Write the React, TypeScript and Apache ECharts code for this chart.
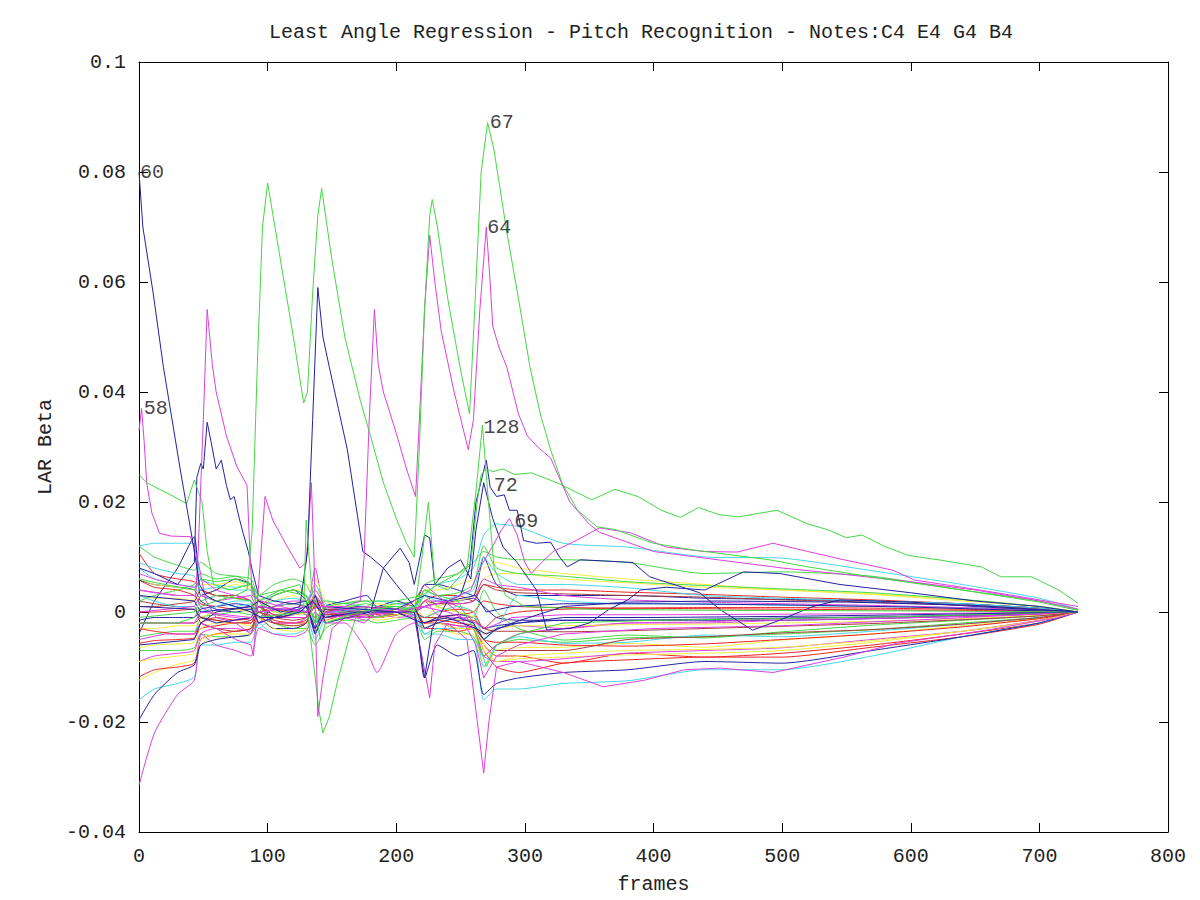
import React, { useEffect, useRef } from "react";
import * as echarts from "echarts";

// values are LAR beta in thousandths (axis labels divide by 1000)
const FRAMES = [0, 12, 30, 43, 48, 60, 75, 87, 93, 105, 120, 130, 137, 145, 160, 177, 185, 200, 214, 222, 232, 248, 260, 268, 278, 295, 330, 380, 440, 500, 570, 640, 700, 730];

const b01 = [12, 12.5, 12.5, 12.5, 6, 5, 4.5, 5, 2, 3, 4, 3, 1, 2, 1.5, 1, 2, 1.5, 1, 3, 5, 6, 8, 14, 16, 15.5, 12.5, 11.8, 10, 9.8, 7.5, 5, 2.5, 0.5];
const b02 = [12, 10, 8.5, 7.6, 9, 7, 6.5, 6, 3, 5, 6, 5, 2, 2, 1.5, 2, 1, 1.5, 2, 5, 6, 7, 9, 11, 10, 9.5, 9.5, 9, 7, 7.3, 6.5, 4, 2, 0.5];
const b03 = [10.7, 7, 6, 5.5, 4, 3, 2.5, 2, -1, 1, 1.5, 1, 3, 0.5, 0, 0.5, -0.5, 0.5, 0, 2, 3, 3, 2, 5, 4.5, 4, 4, 3.6, 3.2, 2.7, 2.2, 1.5, 0.7, 0];
const b04 = [5.8, 4.5, 4, 3, 1.5, 1, 0.5, 0.5, 2, 0.5, 0, 0, -2, 0, 0.5, 0, 1, 0, -0.5, -1, 0, 0.5, 0, -3, -1, 0, 0.5, 0.7, 0.8, 0.8, 0.7, 0.5, 0.2, 0];
const b05 = [5.8, 5, 4.5, 4, 2, 0.5, 0, 0.5, -2, -1, -0.5, 0, 2, -1, -0.5, -1, 0, -0.5, 0, 1, 1.5, 2, 2.5, 1, -1, -1.5, -1.5, -1.5, -1.5, -1.5, -1.2, -0.8, -0.4, 0];
const b06 = [4, 3.5, 3, 3, 1, -0.5, -1, -1.5, 1, -0.5, 0, -0.5, -3, -1, -0.5, -1.5, 0, -1, -0.5, 2, -0.5, -1, -1, -4, -3, -2.5, -3, -2, -1.8, -1.2, -1, -0.7, -0.4, 0];
const b07 = [3, 2.5, 2.5, 2, 3, 4, 5, 4, 1, 2, 3, 2, 5, 1, 0.5, 1, 0.5, 0.5, 1, -1, 1, 2, 3, 6, 7, 7, 6, 5.3, 4.5, 4, 3.2, 2, 1, 0];
const b08 = [0, 0, 0.3, 0.5, -1, -1.5, -2, -2, 1, -1, -1, -1, 1, 0, -0.5, 0, -1, 0, 0.5, -2, -1, -0.5, 0, 2, 1.5, 1, 0.8, 0.7, 0.6, 0.5, 0.4, 0.3, 0.1, 0];
const b09 = [-1.5, -1, -1, -1, 0.5, 1, 1.5, 1, -1, 0.5, 0.5, 0, -2, 0.5, 0.2, 0, 0.5, 0, -0.5, -2, -1, -0.5, -1, -3, -2.5, -2, -1.5, -1.5, -1.3, -1.1, -0.9, -0.6, -0.3, 0];
const b10 = [-4.5, -4, -3.5, -3.5, -1, -0.5, 0, -0.5, 2, 0, 0, -0.5, -2, 0, 0.5, 0.5, 0, 0.5, 0, 3, 1, 0, -1, 4, 0, -3, -5.1, -4.2, -4.7, -3.6, -2.4, -1.5, -0.7, 0];
const b11 = [-5.7, -5.2, -5, -4.7, -3, -2.5, -2, -2, 0, -1.5, -2, -1.5, 1, -1, -0.5, -0.5, -1, -0.5, 0, -3, -2, -2.5, -3, -6, -8, -8, -9.3, -7.5, -8.2, -7.5, -6, -4, -2, 0];
const b12 = [-6.5, -6, -5.8, -5.5, -3, -2, -2, -2.5, -1, -3, -3, -2, 2, -2, -1, -1, -1.5, -1, 0, -4, -3, -4, -4, -10, -7, -6.5, -6.4, -5.7, -6.4, -5.1, -4, -2.5, -1.2, 0];
const b13 = [-7, -7, -7, -6.5, -4, -4.5, -4.5, -4, 1, -2, -3, -3, -6, -3, -1.5, -1.5, -2, -1.5, -1, -5, -3.5, -3.5, -4.5, -8, -6, -5, -5.5, -4.7, -4.5, -4, -3.2, -2, -1, 0];
const b14 = [-4, 2, 8, 13.7, 3, 4, 6, 5, 1, 3, 4, 2, -4, 1, 2, 3, 1, 2, 1, 5, 5, 4, 3, 10, 5, 3, 3, 3, 2.5, 2.3, 2, 1.5, 0.7, 0];
const b15 = [-12.4, -11, -9.5, -8.7, -6, -4, -3.5, -3, 0, -2, -2.5, -2, 3, -1, 0, 0, 1, 0.5, 0, -2, 0, 1, 0, -6, -9, -8.5, -8.2, -7.8, -7.5, -7, -5.5, -3.5, -1.5, 0];
const b16 = [-11.8, -10.5, -10, -9.3, -5, -4, -3.5, -3, -1, -2, -2, -2, 1.5, -1.5, -0.5, -1, 0, -0.5, 0, -3, -3, -3.5, -3, -7, -10, -11, -9.3, -8.7, -8.2, -8.2, -6.4, -4.5, -2.2, 0];
const b17 = [-16, -14, -13, -11.8, -6, -6, -5.5, -5.5, -2, -4, -4, -3, 2, -2, -1, -1, -1, -0.5, 0, -4, -4, -5, -5, -16, -14, -14, -13, -12.5, -10.5, -10.5, -8, -4.5, -2, 0];
const b18 = [-31.5, -22, -15, -12.4, -4, -3, -3, -3.5, 2, -2, -2, -1, 8, 0, -1, -1, -1, -0.5, 0, 1, 2, 1, -2, -8, -9, -9, -8.5, -7.5, -7, -6.5, -5, -3.5, -1.5, 0];
const b19 = [-19.6, -15, -11, -9.6, -6, -5, -4.5, -4, -1, -3, -3, -2, 3, -1, 0, 0.5, 0, 0.5, 0, -12, -6, -8, -7, -15, -13, -12, -11, -10.5, -9, -9.3, -7, -4.5, -2, 0];
const b20 = [8, 6, 5, 4.5, 3, 2, 1, 1.5, -3, -1, -1, -1, -5, -1, 0.5, 0, 0.5, 0, 0.5, -4, -3, -3, -2, -10, -6, -4.5, -5.7, -5.5, -4.2, -4.5, -3.5, -2.2, -1, 0];
const b21 = [2, 1.5, 1, 1, -2, -3, -3.5, -3, 0, -2, -2.5, -2, 2, -1, -0.5, -0.5, -1, -0.5, 0, -2, -2, -3, -3, -5, -7, -7, -7, -5, -4.5, -3.8, -3.2, -2.2, -1, 0];
const b22 = [1, 1, 1.5, 2, 4, 3, 3, 2, 0, 1, 1.5, 1, -1, 0.5, 0.5, 0.5, 0.3, 0.5, 0, 2, 1.5, 1.5, 2, 5, 4, 3.5, 3.3, 3, 2.7, 2.2, 1.8, 1.2, 0.6, 0];
const b23 = [6, 5, 4.5, 4, 5, 5, 5.5, 4.5, 1, 3, 4, 4, 6, 2, 1, 1, 1.5, 1, 1.5, 4, 4, 5, 6, 8, 9, 8, 7, 6, 5, 4, 3.3, 2.2, 1, 0];
const b24 = [-9, -8, -7.5, -7, -4, -6, -7, -8, -3, -4, -4.5, -3.5, 0, -2, -2, -7, -11, -4, -2, -3, -2, -2.5, -3, -8, -6, -4, -3, -2, -2, -1.5, -1.2, -0.8, -0.4, 0];
const b25 = [-3, -3, -2.5, -2.5, -1, 0, 0.5, 0, 2.5, 0, -0.5, 0, 3, 0, 0.5, 0.3, 0, 0.5, 0.3, 2, 1, 0, -1, -4, -3, -2.5, -2.5, -2.3, -2.2, -2, -1.7, -1.2, -0.6, 0];
const b26 = [9, 8, 7, 6.5, 4, 4.5, 4, 4, 1, 2, 2.5, 2, 5, 1.5, 0.5, 0.5, 0.5, 0.5, 1, 3, 2, 3, 4, 10, 7, 5, 5, 4.4, 3, 2.5, 2, 1.5, 0.7, 0];
const b27 = [2, 3, 4, 5, 7, 6, 6.5, 5, 0, 3, 4, 3, -2, 1, 1, 1.5, 1, 1, 0.5, 4, 3, 3.5, 5, 12, 8, 7, 6.5, 5.5, 4.8, 4.2, 3.5, 2.3, 1, 0];
const b28 = [-3, -3.5, -4, -4, -2, -1, -1.5, -1, 1, -0.5, -1, -1, 1.5, -0.5, 0, -0.5, 0, 0, 0, -2, -1.5, -2, -2.5, -5, -5.5, -5.5, -6, -6.2, -5.8, -5, -4, -2.7, -1.2, 0];
const b29 = [3, 2, 1, 1, 0, 1, 2, 2, -1, 1, 1.5, 1, -2, 0, 0, -0.5, 0, 0, -0.5, -1, 0, 1, 0, -5, -3, 3, 2, 1.5, 1.5, 1.2, 1, 0.8, 0.4, 0];
const b30 = [7, 6, 5, 4.5, 6, 4, 3, 2, -2, 1, 2, 2, 4, 1, 0.5, 0, 1, 0.5, 0, 2, 2, 1.5, 2, 6, 5, 4.5, 3, 2.2, 1.8, 1.5, 1.2, 0.8, 0.4, 0];
const b31 = [-2, -2, -2, -2, -1, -1.5, -2, -1.5, 0, -1, -1.5, -1, 1, -0.5, -0.3, -0.5, -1, -0.5, 0, -1, -1, -1.5, -1.5, -3, -3.5, -3.5, -3.6, -3.4, -3, -2.6, -2.1, -1.4, -0.7, 0];
const b32 = [-9, -8.5, -8, -7.5, -5, -4, -4, -4, -1, -3, -3.5, -3, 2, -1.5, -1, -0.5, -1, -0.5, 0, -3, -2, -3, -3, -7, -9, -8, -7.5, -7, -6.8, -6.4, -5.2, -3.5, -1.6, 0];

// prominent paths: [frame, beta*1000]
const m60 = [[0, 80], [3, 70], [11, 58], [19, 44.5], [32, 26], [42, 12.5], [47, 5], [52, 3], [60, 2], [75, 1], [87, 0], [95, -1], [110, -1], [125, 0], [135, 2], [145, -1], [170, 0], [200, 0], [220, -2], [240, -1], [262, -3], [270, -4], [290, -2], [330, 1], [380, 1.8], [450, 2], [550, 1.8], [650, 1.2], [730, 0]];
const m58 = [[0, 33], [2, 37], [4, 31], [6, 23.5], [10, 18], [16, 14.3], [25, 13.8], [40, 13.7], [44, 11], [47, 8], [52, 2], [60, -1], [75, -2], [87, -4], [93, -2], [105, -1], [130, -1], [137, 3], [145, 0], [180, -1], [220, 1], [240, 0], [262, -2], [270, -3], [290, -1], [330, -0.5], [400, -0.5], [500, -0.4], [600, -0.3], [730, 0]];
const m64 = [[0, 4], [30, 3], [44, 3], [46, 11], [50, 35], [53, 55], [57, 45], [60, 40], [68, 32], [76, 26.5], [84, 23], [86, 12], [88, 3], [95, 2], [110, 1], [130, 0], [140, 1], [160, 1], [172, 2], [175, 10], [179, 35], [183, 55], [186, 45], [190, 40], [200, 32.5], [208, 26], [215, 21], [218, 35], [222, 55], [226, 68.5], [230, 60], [235, 51], [245, 40], [256, 29.5], [260, 35], [265, 55], [270, 70], [273, 60], [275, 52], [280, 48], [286, 44.5], [295, 36], [302, 32], [310, 30], [320, 28], [335, 20], [350, 16], [358, 14.5], [400, 11], [450, 9.5], [500, 8], [550, 6.8], [600, 5.5], [650, 4], [700, 2], [730, 0.5]];
const m67 = [[0, -2], [30, -2], [43, -1], [48, 1], [60, 2], [75, 3], [84, 4], [88, 15], [92, 45], [96, 70], [100, 78], [110, 64], [120, 50], [128, 38], [131, 40], [135, 58], [139, 72], [142, 77], [150, 64], [160, 50], [172, 38.5], [180, 32], [190, 23.5], [200, 17], [208, 12.5], [214, 10], [218, 30], [222, 55], [226, 72], [228, 75], [232, 70], [240, 57], [250, 44], [257, 36], [261, 55], [266, 80], [271, 89], [276, 84], [286, 69], [295, 57], [304, 44.5], [312, 36], [320, 29.5], [329, 23.4], [341, 18.5], [356, 15.5], [370, 15], [400, 12.5], [430, 11.3], [490, 9.5], [520, 8.2], [580, 6], [640, 4], [700, 1.8], [730, 0.3]];
const mTopGreen = [[0, 25], [6, 23.5], [27, 21], [37, 19.7], [43, 24], [46, 22], [49, 20], [53, 11], [58, 5], [70, 4], [87, 5], [93, 3], [110, 4], [130, 3], [137, -2], [145, 1], [170, 2], [200, 2], [220, 3], [232, 5], [248, 7], [258, 9], [263, 20], [266, 25], [270, 26], [275, 25.5], [283, 26], [292, 25], [305, 25.3], [326, 23.4], [352, 20.4], [370, 22.3], [388, 21], [406, 18.5], [421, 17.2], [435, 19], [451, 17.7], [466, 17.3], [496, 18.5], [520, 16], [535, 15], [550, 13.5], [562, 14], [580, 11.9], [598, 10.3], [624, 9.4], [655, 8.2], [670, 6.4], [694, 6.4], [715, 4], [730, 1.6]];
const m128 = [[0, -1], [43, 0], [48, 2], [60, 3], [87, 2], [93, -1], [128, 0], [130, 16.7], [134, 5], [141, -5], [145, -2], [170, 0], [200, 1], [214, 0], [220, 10], [225, 20], [230, 5], [240, 4], [255, 8], [262, 22], [267, 34], [271, 22], [276, 8], [285, 3], [300, 1], [350, 0.5], [450, 0.3], [600, 0.2], [730, 0]];
const m72 = [[0, 3], [43, 2], [48, 0], [87, 1], [93, -2], [130, 1], [137, -3], [145, 1], [200, 0], [214, 0], [222, -12], [228, -3], [240, 2], [250, 3], [257, 8], [262, 20], [270, 27.6], [273, 22.7], [278, 21], [284, 21.3], [288, 18.5], [294, 18.5], [299, 13], [309, 12.5], [320, 12.7], [327, 10], [333, 8.2], [343, 9.5], [360, 9.3], [384, 9], [397, 6.4], [436, 3.5], [452, 0.4], [477, -3.3], [498, -1.5], [524, 1], [545, 2.2], [600, 1.8], [650, 1], [730, 0]];
const m72b = [[0, 1], [43, 0.5], [48, -1], [60, -2], [87, -1], [93, 1], [130, 0], [137, 3], [145, -2], [180, 0], [190, 8], [203, 11.6], [210, 9], [214, 5], [222, 14], [226, 13.5], [230, 5], [240, 8], [250, 9.5], [258, 6], [262, 15], [268, 23.5], [275, 17], [283, 11.8], [294, 9], [309, 4], [317, -3.3], [335, -3], [350, -2], [365, 0.4], [380, 2.2], [390, 4], [410, 4.5], [440, 4], [470, 7.3], [498, 7], [545, 5], [600, 3.5], [650, 2], [700, 1], [730, 0]];
const m140 = [[0, -6], [43, -5], [48, -2], [60, 0], [87, 1], [93, 2], [110, 0], [125, 1], [131, 11], [135, 35], [139, 59], [143, 50], [148, 44.5], [155, 37], [162, 29.5], [170, 17.3], [174, 11], [180, 10], [190, 8], [200, 5], [214, 1], [222, -3], [232, -2], [248, -1], [260, -2], [268, -5], [278, -3], [295, -2], [330, -1], [400, -1], [500, -0.8], [600, -0.5], [730, 0]];
const m53 = [[0, 8], [12, 7], [30, 5], [43, 9], [45, 24.5], [48, 27], [50, 26], [53, 34.5], [56, 31], [60, 26], [64, 27.6], [68, 23], [71, 20.4], [74, 21], [78, 17], [81, 14.3], [85, 11], [88, 7.6], [93, 3], [105, 2], [120, 1.5], [130, 2], [137, -4], [145, 0], [170, 1], [200, 0.5], [222, 3], [240, 2], [262, 3], [270, 0], [290, 1], [330, 1.5], [400, 1.5], [500, 1.3], [600, 0.9], [730, 0]];
const mGreenDip = [[0, 6], [20, 5], [43, 4], [48, 6], [60, 5.5], [75, 6], [87, 5], [93, 2], [110, 4], [125, 5], [130, 2], [135, -8], [140, -18], [143, -22], [148, -19], [155, -12], [163, -5], [170, 0], [185, -1], [200, 0], [214, 1], [222, 4], [232, 3], [248, 2], [262, -4], [270, -10], [278, -6], [295, -4], [330, -2], [400, -1.5], [500, -1.2], [600, -0.8], [730, 0]];
const mMagDip = [[0, -5], [20, -4], [43, -4], [48, -2], [60, -3], [75, -5], [87, -6], [89, -8], [93, 5], [98, 21], [104, 16.7], [115, 12], [125, 8], [130, 9], [134, 23.5], [136, 10], [139, -19], [143, -12], [150, -3], [160, -1], [175, -2], [185, 0], [200, 0], [214, 2], [222, 5], [232, 3], [248, 0], [262, -6], [268, -12], [278, -8], [295, -6], [330, -4], [400, -3], [500, -2.5], [600, -1.5], [730, 0]];
const mMagLow = [[0, 0], [43, 1], [48, 3], [60, 2], [87, 3], [93, 0], [130, 1], [137, -3], [145, 0], [175, 1], [200, 0], [214, -1], [220, -8], [226, -15.6], [230, -6], [240, -2], [255, -5], [262, -18], [268, -29.3], [272, -20], [278, -10], [295, -9], [330, -11], [361, -13.6], [393, -12.4], [424, -10.5], [452, -10.2], [493, -11], [548, -8.2], [589, -5.7], [659, -3.3], [713, -1.1], [730, 0]];
const m69 = [[0, -2], [43, -2], [48, 0], [87, -1], [93, 1], [130, 0], [137, 2], [145, -1], [200, 0], [222, 1], [240, 2], [258, 4], [265, 8], [275, 12], [282, 15], [288, 17], [294, 14], [300, 9], [305, 7], [313, 9], [322, 11], [340, 13], [358, 15.3], [382, 14.4], [410, 11.8], [440, 11], [465, 10.9], [493, 12.5], [520, 11], [548, 9.5], [586, 7.6], [603, 5.8], [640, 4.5], [680, 3], [730, 1]];

const NOTE_LABELS: [number, number, string][] = [
  [0, 80, "60"], [3, 37, "58"], [272, 89, "67"], [270, 70, "64"], [267, 33.6, "128"], [275, 23, "72"], [291, 16.5, "69"],
];

const C = {
  red: "#ee2222",
  green: "#44d844",
  navy: "#2222a0",
  magenta: "#dd40dd",
  cyan: "#44d8e8",
  yellow: "#eeee44",
  brown: "#a83a3a",
};

const BUNDLE: [number[], string][] = [
  [b01, C.cyan], [b02, C.green], [b03, C.red], [b04, C.red], [b05, C.navy], [b06, C.magenta],
  [b07, C.yellow], [b08, C.red], [b09, C.navy], [b10, C.green], [b11, C.red], [b12, C.yellow],
  [b13, C.green], [b14, C.navy], [b15, C.yellow], [b16, C.red], [b17, C.cyan], [b18, C.magenta],
  [b19, C.navy], [b20, C.cyan], [b21, C.brown], [b22, C.brown], [b23, C.yellow], [b24, C.magenta],
  [b25, C.yellow], [b26, C.cyan], [b27, C.green], [b28, C.red], [b29, C.cyan], [b30, C.magenta],
  [b31, C.brown], [b32, C.yellow],
];

const MAJOR: [number[][], string][] = [
  [m53, C.navy], [m58, C.magenta], [mGreenDip, C.green], [mMagDip, C.magenta], [mMagLow, C.magenta],
  [m140, C.navy], [m72b, C.navy], [m72, C.navy], [m69, C.magenta], [m128, C.green],
  [mTopGreen, C.green], [m64, C.magenta], [m60, C.navy], [m67, C.green],
];

const FONT = "'Liberation Mono', 'DejaVu Sans Mono', monospace";

export default function App() {
  const ref = useRef<HTMLDivElement>(null);
  useEffect(() => {
    if (!ref.current) return;
    const chart = echarts.init(ref.current, undefined, { renderer: "svg" });
    const series: any[] = [];
    BUNDLE.forEach(([vals, color]) => {
      series.push({
        type: "line",
        data: FRAMES.map((f, i) => [f, vals[i]]),
        showSymbol: false,
        smooth: 0.2,
        lineStyle: { width: 1, color },
        itemStyle: { color },
        silent: true,
      });
    });
    MAJOR.forEach(([pts, color]) => {
      series.push({
        type: "line",
        data: pts,
        showSymbol: false,
        lineStyle: { width: 1, color },
        itemStyle: { color },
        silent: true,
      });
    });
    series.push({
      type: "scatter",
      data: NOTE_LABELS.map(([x, y, n]) => [x, y, n]),
      symbolSize: 0,
      z: 10,
      label: {
        show: true,
        position: "right",
        distance: 1,
        formatter: (p: any) => p.data[2],
        color: "#111",
        fontSize: 20,
        fontFamily: FONT,
      },
      silent: true,
    });

    const axisCommon = {
      axisLine: { show: true, onZero: false, lineStyle: { color: "#000", width: 1 } },
      axisTick: { show: true, inside: true, length: 9, lineStyle: { color: "#000", width: 1 } },
      splitLine: { show: false },
    };

    chart.setOption({
      animation: false,
      backgroundColor: "#fff",
      grid: { left: 139, right: 32, top: 62, bottom: 68, containLabel: false, outerBoundsMode: "none" },
      graphic: [
        {
          type: "text",
          x: 641,
          y: 32,
          style: {
            text: "Least Angle Regression - Pitch Recognition - Notes:C4 E4 G4 B4",
            fill: "#222",
            font: `20px ${FONT}`,
            textAlign: "center",
            textVerticalAlign: "middle",
          },
        },
      ],
      xAxis: [
        {
          type: "value",
          min: 0,
          max: 800,
          interval: 100,
          position: "bottom",
          name: "frames",
          nameLocation: "middle",
          nameGap: 42,
          nameTextStyle: { color: "#222", fontSize: 20, fontFamily: FONT },
          axisLabel: { color: "#222", fontSize: 20, fontFamily: FONT, margin: 14 },
          ...axisCommon,
        },
        {
          type: "value",
          min: 0,
          max: 800,
          interval: 100,
          position: "top",
          axisLabel: { show: false },
          ...axisCommon,
        },
      ],
      yAxis: [
        {
          type: "value",
          min: -40,
          max: 100,
          interval: 20,
          position: "left",
          name: "LAR Beta",
          nameLocation: "middle",
          nameGap: 84,
          nameRotate: 90,
          nameTextStyle: { color: "#222", fontSize: 20, fontFamily: FONT },
          axisLabel: {
            color: "#222",
            fontSize: 20,
            fontFamily: FONT,
            margin: 13,
            formatter: (v: number) => String(Math.round(v) / 1000),
          },
          ...axisCommon,
        },
        {
          type: "value",
          min: -40,
          max: 100,
          interval: 20,
          position: "right",
          axisLabel: { show: false },
          ...axisCommon,
        },
      ],
      series,
    });
    return () => chart.dispose();
  }, []);
  return (
    <div
      ref={ref}
      style={{ position: "absolute", left: 0, top: 0, width: 1200, height: 900, background: "#fff" }}
    />
  );
}
